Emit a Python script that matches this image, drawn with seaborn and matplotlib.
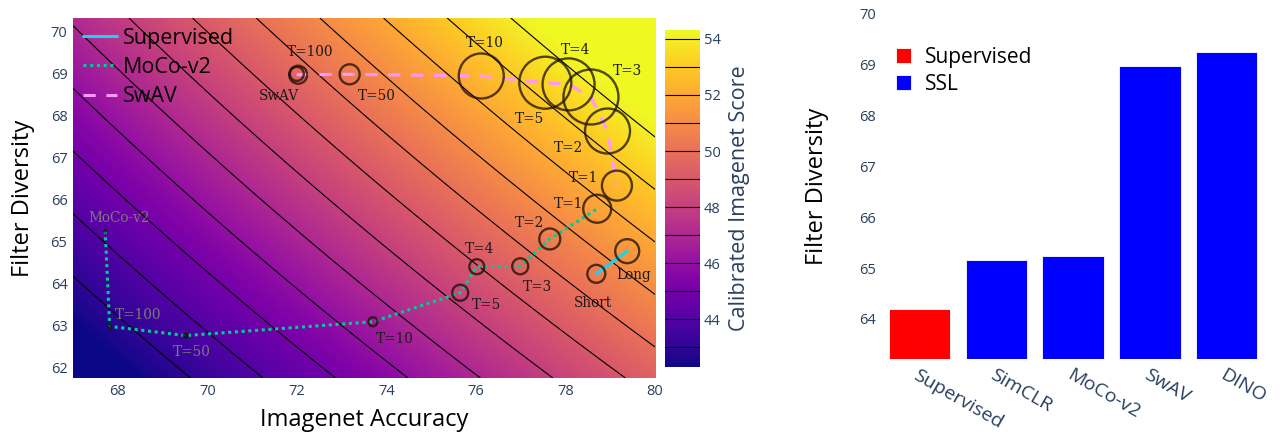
import numpy as np
import matplotlib
matplotlib.use("Agg")
import matplotlib.pyplot as plt
import seaborn as sns
from matplotlib.lines import Line2D

# ---- data ----
sup_acc = [78.69, 79.38]
sup_div = [64.24, 64.78]
sup_lbl = ["Short", "Long"]
sup_size = [18, 24]

moco_acc = [67.72, 67.82, 69.52, 73.70, 75.65, 76.02, 76.99, 77.65, 78.71]
moco_div = [65.27, 62.99, 62.77, 63.10, 63.79, 64.41, 64.42, 65.07, 65.79]
moco_lbl = ["MoCo-v2", "T=100", "T=50", "T=10", "T=5", "T=4", "T=3", "T=2", "T=1"]
moco_size = [2, 3, 4, 9, 16, 15, 16, 21, 28]

swav_acc = [72.0, 72.03, 73.18, 76.12, 77.55, 78.07, 78.57, 78.94, 79.15]
swav_div = [69.0, 68.98, 68.99, 68.95, 68.79, 68.75, 68.45, 67.64, 66.34]
swav_lbl = ["SwAV", "T=100", "T=50", "T=10", "T=5", "T=4", "T=3", "T=2", "T=1"]
swav_size = [14, 18, 20, 45, 52, 52, 55, 45, 30]

bar_names = ["Supervised", "SimCLR", "MoCo-v2", "SwAV", "DINO"]
bar_vals = [64.2, 65.16, 65.24, 68.97, 69.26]
bar_group = ["Supervised", "SSL", "SSL", "SSL", "SSL"]

score_levels = list(range(43, 55))
score_ticks = [44, 46, 48, 50, 52, 54]

# label offsets in pixels (dx, dy with dy downward)
moco_off = [(14, -13), (28, -11), (6, 16), (22, 17), (26, 12), (3, -18), (17, 21), (-20, -16), (-29, -5)]
swav_off = [(-18, 22), (12, -23), (27, 22), (4, -33), (-16, 36), (7, -34), (37, -26), (-39, 17), (-33, -8)]
sup_off = [(-3, 29), (6, 24)]
grey_moco = {"MoCo-v2", "T=100", "T=50"}

SLATE = "#2a3f5f"
C_SUP, C_MOCO, C_SWAV = "#19d3f3", "#00cc96", "#FF97FF"

sns.set_theme(style="white")
plt.rcParams["font.family"] = ["Open Sans", "DejaVu Sans"]
plt.rcParams["text.color"] = "black"

fig = plt.figure(figsize=(12.8, 4.34), dpi=100)
ax1 = fig.add_axes([0.0570, 0.129, 0.4547, 0.8295])
cax = fig.add_axes([0.5195, 0.1544, 0.0273, 0.7765])
ax2 = fig.add_axes([0.6883, 0.1728, 0.300, 0.795])

# ---- left: calibrated score background ----
xlim = (67.0, 80.0)
ylim = (61.76, 70.33)
gx = np.linspace(*xlim, 500)
gy = np.linspace(*ylim, 400)
score = np.outer(gy, gx) / 100.0
im = ax1.imshow(score, extent=[*xlim, *ylim], origin="lower", aspect="auto",
                cmap="plasma", vmin=42.29, vmax=54.32, interpolation="bilinear")
cs = ax1.contour(gx, gy, score, levels=score_levels, colors="black", linewidths=0.8)

sns.lineplot(x=sup_acc, y=sup_div, sort=False, color=C_SUP, lw=2.2, ax=ax1)
sns.lineplot(x=moco_acc, y=moco_div, sort=False, color=C_MOCO, lw=2.2,
             linestyle=(0, (1, 1.2)), ax=ax1)
sns.lineplot(x=swav_acc, y=swav_div, sort=False, color=C_SWAV, lw=2.2,
             linestyle=(0, (4, 3.5)), ax=ax1)


def bubbles(xs, ys, sizes, labels, offs, greys=()):
    s = [(d * 0.72) ** 2 for d in sizes]
    ax1.scatter(xs, ys, s=s, facecolors="none", edgecolors=(0.1, 0.05, 0.0, 0.75),
                linewidths=1.7, zorder=5)
    for x, y, t, (dx, dy) in zip(xs, ys, labels, offs):
        ax1.annotate(t, (x, y), xytext=(dx * 0.72, -dy * 0.72), textcoords="offset points",
                     ha="center", va="center", fontsize=9.8, family="DejaVu Serif",
                     color="#7a7a7a" if t in greys else "#1a1a1a", zorder=6)


bubbles(sup_acc, sup_div, sup_size, sup_lbl, sup_off)
bubbles(moco_acc, moco_div, moco_size, moco_lbl, moco_off, grey_moco)
bubbles(swav_acc, swav_div, swav_size, swav_lbl, swav_off)

ax1.set_xlim(*xlim)
ax1.set_ylim(*ylim)
ax1.set_xticks([68, 70, 72, 74, 76, 78, 80])
ax1.set_yticks(range(62, 71))
ax1.tick_params(length=0, labelsize=10.5, labelcolor=SLATE, pad=4)
ax1.set_xlabel("Imagenet Accuracy", fontsize=17, color="black", labelpad=7)
ax1.set_ylabel("Filter Diversity", fontsize=17, color="black", labelpad=11)
for sp in ax1.spines.values():
    sp.set_visible(False)

handles = [Line2D([], [], color=C_SUP, lw=2.2),
           Line2D([], [], color=C_MOCO, lw=2.2, linestyle=(0, (1, 1.2))),
           Line2D([], [], color=C_SWAV, lw=2.2, linestyle=(0, (4, 3.5)))]
ax1.legend(handles, ["Supervised", "MoCo-v2", "SwAV"], loc="upper left", frameon=False,
           fontsize=15.5, handlelength=1.6, labelspacing=0.38, borderaxespad=0.25,
           handletextpad=0.25, borderpad=0.2, labelcolor="black")

cb = fig.colorbar(im, cax=cax, ticks=score_ticks)
cb.add_lines(cs)
cb.outline.set_visible(False)
cb.ax.tick_params(length=0, labelsize=10.5, labelcolor=SLATE, pad=3)
cb.set_label("Calibrated Imagenet Score", fontsize=15.5, color=SLATE, labelpad=6)

# ---- right: bar chart ----
sns.barplot(x=bar_names, y=bar_vals, hue=bar_group, palette={"Supervised": "red", "SSL": "blue"},
            dodge=False, width=0.8, saturation=1, edgecolor="white", linewidth=0.6, ax=ax2)
ax2.set_xlim(-0.5, 4.5)
ax2.set_ylim(63.21, 70.0)
ax2.set_yticks(range(64, 71))
ax2.tick_params(length=0, labelsize=10.5, labelcolor=SLATE)
ax2.tick_params(axis="x", labelsize=14, pad=5)
for t in ax2.get_xticklabels():
    t.set_rotation(-30)
    t.set_ha("left")
    t.set_rotation_mode("anchor")
ax2.set_ylabel("Filter Diversity", fontsize=17, color="black", labelpad=22)
ax2.set_xlabel("")
for sp in ax2.spines.values():
    sp.set_visible(False)
ax2.legend(loc="upper left", bbox_to_anchor=(-0.01, 0.96), frameon=False, fontsize=15,
           handlelength=0.7, handleheight=0.7, handletextpad=0.7, labelspacing=0.3,
           labelcolor="black")

fig.savefig("out.png", dpi=100)
